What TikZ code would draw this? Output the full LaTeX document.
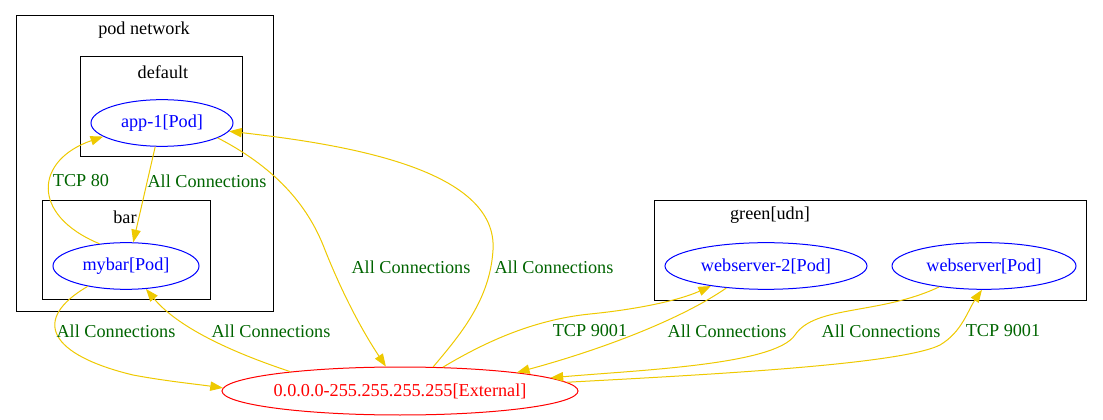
\documentclass[tikz,border=0pt]{standalone}
\usepackage{fontspec}
\setmainfont{Liberation Serif}
\usetikzlibrary{shapes.geometric, arrows.meta, positioning}
\definecolor{edgegold}{RGB}{238,201,0}
\definecolor{lblgreen}{RGB}{0,100,0}

\begin{document}
\begin{tikzpicture}[
    x=0.75pt, y=-0.75pt,
    font=\fontsize{13.65}{16}\selectfont,
    line width=0.75pt
  ]

  % Styles
  \tikzstyle{pod}=[draw=blue, text=blue, ellipse, inner sep=0pt, minimum height=35pt]
  \tikzstyle{external}=[draw=red, text=red, ellipse, inner sep=0pt, inner xsep=-2pt, minimum height=36pt, minimum width=267pt]
  \tikzstyle{conn}=[draw=edgegold, -{Triangle[length=9.5pt,width=7pt]}]
  \tikzstyle{lbl}=[text=lblgreen, inner sep=0pt]
  \tikzstyle{cluster}=[draw=black]

  \useasboundingbox (0,0) rectangle (1103,420);

  % Clusters
  \draw[cluster] (16,16) rectangle (273,312);
  \node (podnet) at (144,30) {pod network};
  \draw[cluster] (80,57) rectangle (242,157);
  \node (default) at (163,72) {default};
  \draw[cluster] (42,201) rectangle (210,300);
  \node (bar) at (125,217) {bar};
  \draw[cluster] (654,201) rectangle (1086,301);
  \node (green) at (770,215) {green[udn]};

  % Pods
  \node[pod, minimum width=106.5pt] (app1) at (162,123) {app-1[Pod]};
  \node[pod, minimum width=109.5pt] (mybar) at (126,266) {mybar[Pod]};
  \node[pod, minimum width=151.5pt] (web2) at (766,266) {webserver-2[Pod]};
  \node[pod, minimum width=138pt] (web) at (984,266) {webserver[Pod]};

  % External
  \node[external] (ext) at (400,391) {0.0.0.0-255.255.255.255[External]};

  % Connections inside pod network
  \draw[conn] (app1.254) -- (mybar.73);
  \draw[conn] (mybar.140) .. controls (30,215) and (35,160) .. (app1.193);

  % Connections with app-1
  \draw[conn] (app1.345) .. controls (280,170) and (310,210) .. (325,250)
    .. controls (345,300) and (365,335) .. (ext.120);
  \draw[conn] (ext.36) .. controls (460,335) and (490,300) .. (493,250)
    .. controls (498,170) and (350,145) .. (app1.353);

  % Connections with mybar
  \draw[conn] (mybar.208) .. controls (30,320) and (50,355) .. (133,375)
    .. controls (165,381) and (195,384) .. (ext.179);
  \draw[conn] (ext.170) .. controls (240,355) and (180,330) .. (mybar.311);

  % Connections with green[udn]
  \draw[conn] (ext.29) .. controls (480,345) and (530,320) .. (590,314)
    .. controls (640,309) and (680,300) .. (web2.200);
  \draw[conn] (web2.209) .. controls (680,320) and (600,350) .. (ext.9);
  \draw[conn] (web.205) .. controls (880,315) and (815,305) .. (795,335)
    .. controls (775,365) and (640,370) .. (ext.5);
  \draw[conn] (ext.3) .. controls (700,375) and (900,365) .. (940,345)
    .. controls (962,332) and (968,310) .. (web.265);

  % Labels
  \node[lbl] (l1) at (207,181) {All Connections};
  \node[lbl] (l2) at (81,181) {TCP 80};
  \node[lbl] (l3) at (411,267) {All Connections};
  \node[lbl] (l4) at (554,267) {All Connections};
  \node[lbl] (l5) at (116,331) {All Connections};
  \node[lbl] (l6) at (271,331) {All Connections};
  \node[lbl] (l7) at (590,331) {TCP 9001};
  \node[lbl] (l8) at (727,331) {All Connections};
  \node[lbl] (l9) at (881,331) {All Connections};
  \node[lbl] (l10) at (1003,331) {TCP 9001};

\end{tikzpicture}
\end{document}
